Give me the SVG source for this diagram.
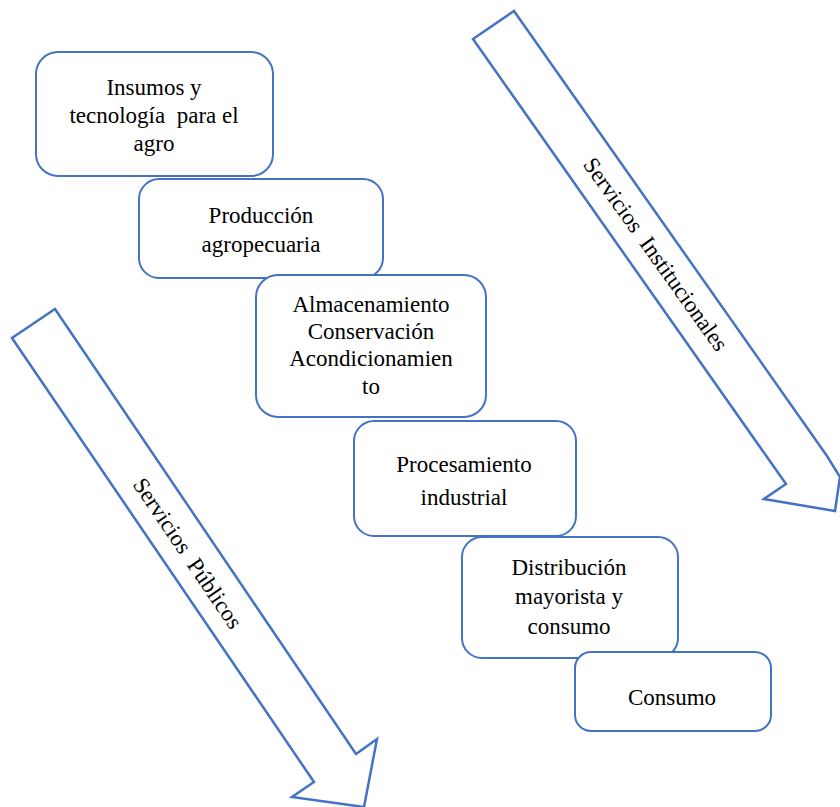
<svg xmlns="http://www.w3.org/2000/svg" width="840" height="807" viewBox="0 0 840 807">
  <style>
    .box { fill: #ffffff; stroke: #4472C4; stroke-width: 2; }
    .arrow { fill: #ffffff; stroke: #4472C4; stroke-width: 2.5; stroke-linejoin: miter; }
    .t { font-family: 'Liberation Serif', 'DejaVu Serif', serif; font-size: 23px; fill: #000000; text-anchor: middle; }
  </style>
  <rect width="840" height="807" fill="#ffffff"/>
  <g id="connectors">
    <g id="arrow-publicos">
      <polygon class="arrow" points="12,338 55,309 356,754 377,739 364,807 292,797 314,782"/>
      <text class="t" transform="translate(188,553) rotate(56)" y="8" style="white-space:pre">Servicios  Públicos</text>
    </g>
    <g id="arrow-institucionales">
      <polygon class="arrow" points="473,39 514,11 827,456 840,477 835,511 764,499 786,484"/>
      <text class="t" transform="translate(656,254) rotate(54.5)" y="8" style="white-space:pre">Servicios  Institucionales</text>
    </g>
  </g>
  <g id="n1">
    <rect class="box" x="36" y="52" width="237" height="124" rx="22"/>
    <text class="t" x="154" y="95">Insumos y</text>
    <text class="t" x="154" y="123" style="white-space:pre">tecnología  para el</text>
    <text class="t" x="154" y="151">agro</text>
  </g>
  <g id="n2">
    <rect class="box" x="139" y="179" width="244" height="99" rx="20"/>
    <text class="t" x="261" y="223">Producción</text>
    <text class="t" x="261" y="252">agropecuaria</text>
  </g>
  <g id="n3">
    <rect class="box" x="256" y="275" width="230" height="142" rx="22"/>
    <text class="t" x="371" y="312">Almacenamiento</text>
    <text class="t" x="371" y="339">Conservación</text>
    <text class="t" x="371" y="366">Acondicionamien</text>
    <text class="t" x="371" y="394">to</text>
  </g>
  <g id="n4">
    <rect class="box" x="354" y="421" width="222" height="115" rx="20"/>
    <text class="t" x="464" y="472">Procesamiento</text>
    <text class="t" x="464" y="505">industrial</text>
  </g>
  <g id="n5">
    <rect class="box" x="462" y="537" width="216" height="121" rx="20"/>
    <text class="t" x="569" y="575">Distribución</text>
    <text class="t" x="569" y="604">mayorista y</text>
    <text class="t" x="569" y="634">consumo</text>
  </g>
  <g id="n6">
    <rect class="box" x="575" y="652" width="196" height="79" rx="16"/>
    <text class="t" x="672" y="705">Consumo</text>
  </g>
</svg>
